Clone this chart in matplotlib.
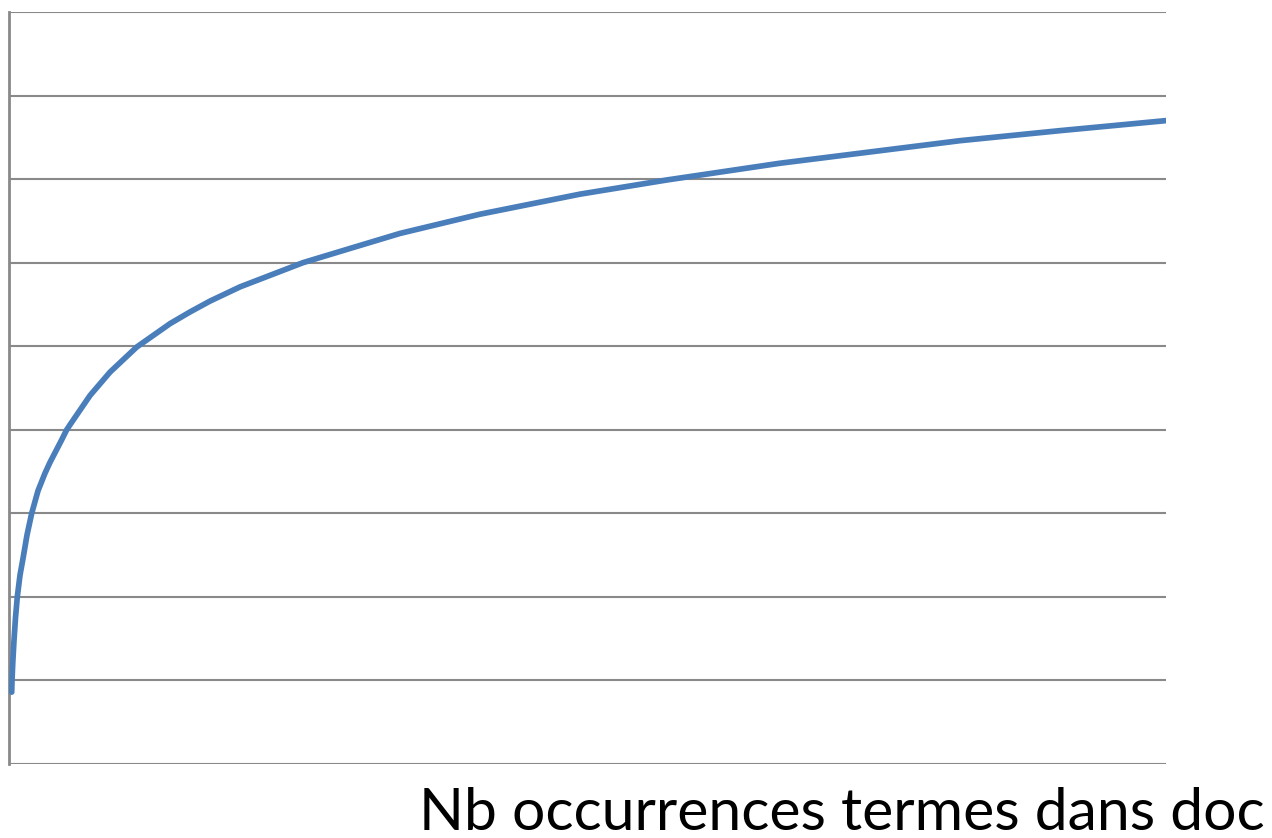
import numpy as np
import matplotlib
matplotlib.use("Agg")
import matplotlib.pyplot as plt

# valeurs (unites arbitraires, pas de graduations sur l'original)
occ = [2.7, 3, 3.8, 5, 6.5, 8.3, 11, 14.3, 18, 22.7, 29, 36, 41, 52.7, 57.7, 61,
       81, 101, 127.7, 161, 181, 201, 231, 294, 341, 391, 471, 571, 658, 771,
       951, 1051, 1157]
poids = [0.86, 1.0, 1.22, 1.48, 1.75, 2.0, 2.26, 2.48, 2.74, 3.0, 3.27, 3.48,
         3.61, 3.88, 4.0, 4.06, 4.41, 4.69, 4.99, 5.27, 5.41, 5.54, 5.71, 6.0, 6.17,
         6.35, 6.58, 6.82, 6.99, 7.19, 7.46, 7.58, 7.7]
grille = np.arange(0, 10, 1)

gris = '#898989'
bleu = '#4a7ebb'

fig = plt.figure(figsize=(12.72, 8.38), dpi=100)
ax = fig.add_axes([9/1272, 74/838, 1157/1272, 752/838])

for g in grille:
    ax.axhline(g, color=gris, lw=1.5, zorder=1)

ax.plot(occ, poids, color=bleu, lw=4.1, solid_capstyle='round',
        solid_joinstyle='round', zorder=3)

ax.set_xlim(0, 1157)
ax.set_ylim(0, 9)
ax.set_xticks([])
ax.set_yticks([])
for s in ['top', 'right', 'bottom']:
    ax.spines[s].set_visible(False)
ax.spines['left'].set_color(gris)
ax.spines['left'].set_linewidth(2)

fig.text(1265/1272, 8/838, 'Nb occurrences termes dans doc', ha='right', va='baseline',
         fontsize=42.4, family='Lato', color='black')

fig.savefig('out.png', dpi=100)
